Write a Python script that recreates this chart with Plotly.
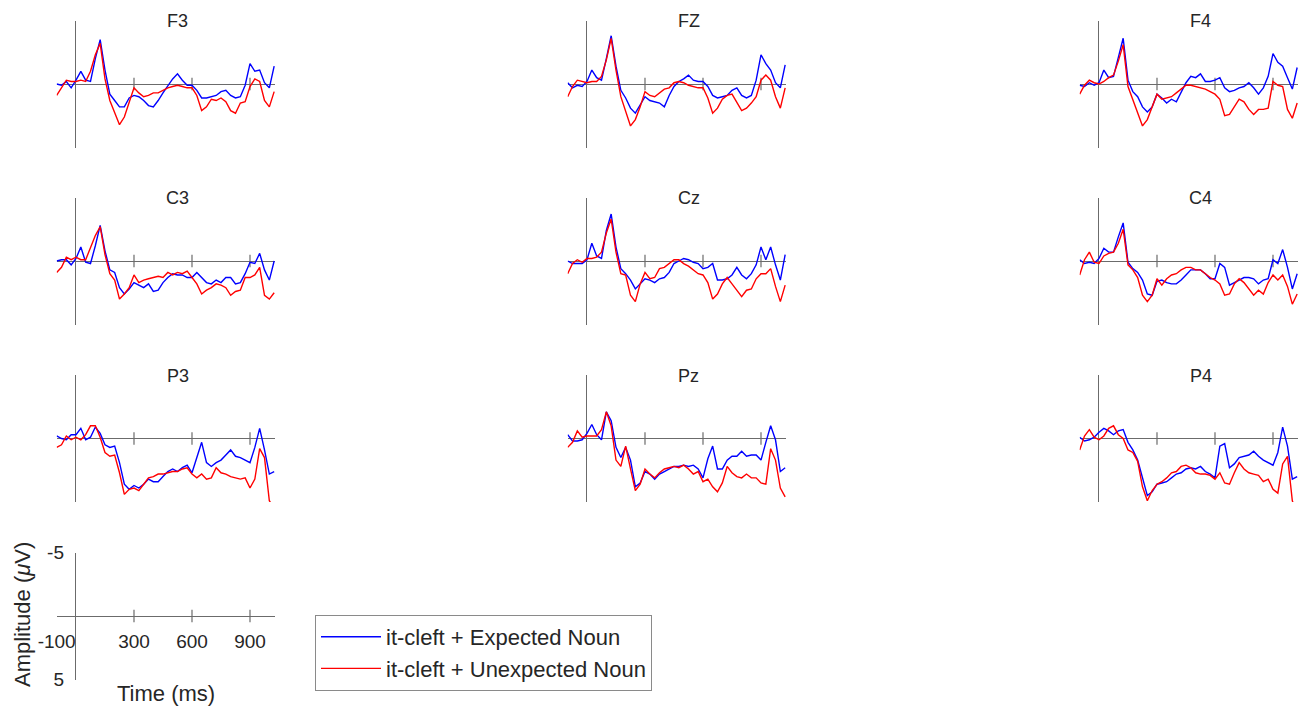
import plotly.graph_objects as go

# ---------------- data ----------------
TIMES = [-100, -75, -50, -25, 0, 25, 50, 75, 100, 125, 150, 175, 200, 225, 250,
         275, 300, 325, 350, 375, 400, 425, 450, 475, 500, 525, 550, 575, 600,
         625, 650, 675, 700, 725, 750, 775, 800, 825, 850, 875, 900, 925, 950,
         975, 1000, 1025]

ELECTRODES = ["F3", "FZ", "F4", "C3", "Cz", "C4", "P3", "Pz", "P4"]
SERIES_NAMES = ["it-cleft + Expected Noun", "it-cleft + Unexpected Noun"]

F3_EXPECTED = [0.0, 0.1, -0.2, 0.3, -0.3, -1.0, -0.3, -0.2, -2.0, -3.5, -1.1, 0.8, 1.3, 1.8, 1.8,
               1.1, 0.9, 1.0, 1.3, 1.7, 1.8, 1.3, 0.7, 0.1, -0.4, -0.8, -0.3, 0.1, 0.1,
               0.5, 1.1, 1.1, 1.0, 0.9, 0.6, 0.5, 0.9, 1.1, 1.0, 0.1, -1.6, -1.0, -1.1,
               -0.1, 0.3, -1.4]
F3_UNEXPECTED = [0.9, 0.3, -0.3, -0.2, -0.2, -0.3, -0.2, -1.0, -2.3, -3.2, -0.4, 1.3, 2.3, 3.2, 2.6,
                 1.4, 0.3, 0.7, 1.0, 0.9, 0.7, 0.7, 0.5, 0.3, 0.2, 0.1, 0.2, 0.3, 0.3,
                 0.9, 2.1, 1.8, 1.2, 1.3, 1.1, 1.4, 2.1, 2.3, 1.5, 1.4, 0.2, -0.4, -0.2,
                 1.3, 1.8, 0.6]

FZ_EXPECTED = [-0.1, 0.3, 0.1, 0.2, -0.2, -1.1, -0.5, -0.3, -2.0, -3.8, -1.4, 0.5, 1.1, 1.9, 2.3,
               1.7, 1.0, 1.3, 1.4, 1.5, 1.8, 0.9, 0.2, -0.2, -0.4, -0.7, -0.3, -0.2, -0.2,
               0.2, 0.9, 1.1, 1.0, 0.9, 0.5, 0.3, 0.9, 1.1, 0.9, -0.3, -2.3, -1.6, -1.1,
               -0.1, 0.3, -1.5]
FZ_UNEXPECTED = [1.0, 0.2, -0.3, -0.2, -0.1, -0.2, -0.2, -0.6, -1.9, -3.6, -1.1, 1.0, 2.1, 3.3, 2.8,
                 1.8, 0.6, 0.9, 1.0, 0.7, 0.4, 0.3, -0.1, -0.2, -0.1, 0.1, 0.2, 0.3, 0.3,
                 1.1, 2.3, 1.9, 1.2, 0.9, 0.8, 1.4, 2.1, 1.9, 1.5, 1.0, -0.3, -0.7, -0.3,
                 1.0, 1.9, 0.3]

F4_EXPECTED = [0.1, 0.2, -0.1, 0.1, -0.1, -1.1, -0.5, -0.6, -2.1, -3.6, -0.3, 0.6, 1.0, 1.8, 2.2,
               1.8, 0.8, 1.1, 1.5, 1.2, 1.4, 0.7, -0.1, -0.6, -0.5, -0.8, -0.2, -0.2, -0.3,
               -0.5, 0.3, 0.6, 0.5, 0.3, 0.2, -0.1, 0.3, 0.8, 0.3, -0.6, -2.4, -1.7, -1.4,
               -0.5, 0.4, -1.3]
F4_UNEXPECTED = [0.8, 0.1, -0.3, -0.1, 0.0, -0.2, -0.5, -0.7, -1.8, -3.1, 0.2, 1.2, 2.3, 3.3, 2.8,
                 1.8, 0.8, 1.2, 1.1, 1.0, 0.7, 0.4, 0.1, 0.1, 0.2, 0.3, 0.4, 0.6, 0.8,
                 1.2, 2.5, 2.4, 1.8, 1.2, 1.4, 2.0, 2.4, 2.0, 2.0, 1.9, -0.2, 0.1, 0.2,
                 2.0, 2.7, 1.5]

C3_EXPECTED = [0.0, -0.1, -0.1, 0.3, -0.2, -1.1, 0.1, 0.2, -1.2, -2.8, -0.8, 0.7, 0.9, 2.1, 2.6,
               2.2, 1.7, 1.9, 2.1, 1.8, 2.4, 2.3, 1.7, 1.3, 1.0, 1.1, 1.1, 1.3, 1.3,
               0.9, 1.3, 1.7, 1.8, 1.5, 1.7, 1.3, 1.3, 1.8, 1.7, 1.0, 0.1, 0.2, -0.6,
               0.7, 1.5, 0.0]
C3_UNEXPECTED = [0.9, 0.5, -0.3, -0.1, -0.3, -0.1, -0.1, -1.1, -2.0, -2.7, -0.5, 1.0, 1.5, 3.0, 2.6,
                 2.1, 1.1, 1.7, 1.5, 1.4, 1.3, 1.2, 1.3, 0.9, 1.1, 0.9, 1.0, 0.8, 1.3,
                 1.8, 2.6, 2.3, 2.1, 1.8, 1.9, 2.1, 2.7, 2.4, 2.3, 1.3, 1.3, 1.1, 0.5,
                 2.7, 3.0, 2.5]

CZ_EXPECTED = [0.0, 0.2, 0.2, 0.2, -0.1, -1.4, -0.4, -0.2, -2.4, -3.7, -1.1, 0.6, 1.0, 1.5, 2.2,
               1.8, 1.4, 1.5, 1.7, 1.4, 1.3, 0.9, 0.2, 0.0, -0.2, -0.1, 0.1, 0.2, 0.6,
               0.5, 0.2, 1.5, 1.5, 1.4, 1.1, 0.5, 1.1, 1.4, 1.0, 0.3, -1.1, -0.1, -1.1,
               0.3, 1.5, -0.5]
CZ_UNEXPECTED = [1.0, 0.2, -0.1, 0.1, -0.2, -0.2, -0.3, -0.7, -2.2, -3.3, -0.7, 1.0, 1.1, 2.7, 3.2,
                 1.8, 0.9, 1.4, 1.3, 0.6, 0.5, 0.2, -0.1, -0.1, 0.2, 0.4, 0.7, 1.0, 1.1,
                 1.7, 3.0, 2.6, 1.8, 1.3, 1.8, 2.3, 2.8, 2.3, 2.2, 1.4, 1.0, 1.0, 0.6,
                 2.0, 3.2, 1.9]

C4_EXPECTED = [-0.1, 0.2, 0.1, 0.2, -0.2, -1.0, -0.7, -0.7, -1.9, -3.0, 0.1, 0.6, 0.9, 1.5, 2.6,
               2.7, 1.6, 1.5, 1.7, 1.8, 1.8, 1.5, 1.1, 0.7, 0.7, 0.7, 1.0, 1.4, 1.4,
               0.2, 0.5, 1.9, 1.7, 1.5, 1.3, 1.3, 1.4, 1.8, 1.5, 1.4, -0.1, 0.2, -0.9,
               0.5, 2.2, 1.0]
C4_UNEXPECTED = [1.1, -0.1, -0.7, 0.1, 0.2, -0.4, -0.6, -0.7, -1.4, -2.5, 0.3, 0.7, 1.3, 2.7, 3.2,
                 2.7, 1.4, 1.9, 1.4, 1.1, 1.0, 0.7, 0.5, 0.5, 0.7, 0.7, 1.0, 1.3, 1.5,
                 1.8, 2.7, 2.6, 1.8, 1.4, 1.7, 2.2, 2.7, 2.3, 2.6, 1.7, 1.1, 1.5, 1.1,
                 2.0, 3.4, 2.6]

P3_EXPECTED = [-0.2, 0.0, 0.1, -0.3, -0.3, -0.8, 0.1, -0.1, -0.9, -0.4, 0.5, 0.7, 0.6, 1.9, 3.6,
               4.0, 3.7, 3.9, 3.6, 3.2, 3.4, 3.4, 3.0, 2.6, 2.4, 2.6, 2.3, 2.1, 2.7,
               1.4, 0.3, 1.9, 2.2, 1.9, 1.7, 1.3, 0.9, 1.4, 1.5, 1.7, 1.9, 0.7, -0.8,
               0.9, 2.8, 2.6]
P3_UNEXPECTED = [0.7, 0.5, -0.2, 0.1, -0.1, 0.1, -0.3, -1.0, -1.0, -0.1, 1.1, 1.4, 1.3, 2.7, 4.4,
                 4.0, 3.9, 4.1, 3.6, 3.1, 3.0, 2.8, 2.8, 2.7, 2.6, 2.6, 2.4, 2.3, 2.8,
                 3.1, 2.8, 3.2, 3.1, 2.3, 2.7, 2.8, 3.0, 3.1, 3.2, 3.1, 3.9, 3.2, 0.8,
                 1.5, 4.9, 5.5]

PZ_EXPECTED = [-0.3, 0.2, 0.2, 0.1, -0.4, -1.1, -0.3, 0.1, -2.1, -1.4, 0.7, 1.5, 0.7, 1.7, 3.8,
               3.5, 2.6, 2.8, 3.2, 2.8, 2.6, 2.4, 2.2, 2.2, 2.1, 2.2, 2.1, 2.4, 3.1,
               1.6, 0.6, 2.4, 2.4, 1.7, 1.4, 1.4, 1.0, 1.4, 1.3, 1.3, 1.7, 0.3, -1.0,
               0.1, 2.6, 2.3]
PZ_UNEXPECTED = [0.7, 0.3, -0.6, -0.1, -0.2, -0.2, -0.2, -0.7, -2.1, -1.0, 1.7, 2.2, 0.6, 2.4, 4.1,
                 3.6, 2.4, 2.8, 3.1, 2.7, 2.4, 2.3, 2.2, 2.3, 2.1, 2.4, 2.8, 2.6, 3.4,
                 3.2, 3.8, 4.2, 3.5, 2.2, 2.7, 3.0, 3.1, 2.8, 3.1, 3.1, 3.5, 3.6, 0.8,
                 1.7, 3.9, 4.6]

P4_EXPECTED = [-0.1, 0.2, 0.1, -0.1, -0.5, -0.8, -0.6, -0.3, -0.6, -0.7, 0.3, 0.9, 1.7, 3.2, 4.5,
               4.2, 3.6, 3.5, 3.4, 3.1, 2.8, 2.7, 2.4, 2.3, 2.4, 2.2, 2.6, 2.8, 3.1,
               0.6, 0.4, 2.3, 2.0, 1.5, 1.4, 1.3, 1.0, 1.4, 1.7, 1.9, 2.1, 1.1, -0.9,
               0.6, 3.2, 3.0]
P4_UNEXPECTED = [0.9, -0.2, -0.7, -0.1, 0.1, -0.2, -0.8, -1.0, -0.3, 0.0, 0.9, 1.1, 1.8, 3.8, 4.9,
                 4.1, 3.6, 3.4, 3.1, 2.7, 2.6, 2.2, 2.1, 2.3, 2.7, 2.8, 2.8, 2.9, 3.2,
                 2.7, 3.5, 3.6, 2.7, 1.9, 2.4, 2.7, 2.8, 2.9, 3.4, 3.2, 4.0, 4.3, 2.0,
                 1.4, 4.9, 6.0]

PANEL_DATA = {
    "F3": (F3_EXPECTED, F3_UNEXPECTED), "FZ": (FZ_EXPECTED, FZ_UNEXPECTED),
    "F4": (F4_EXPECTED, F4_UNEXPECTED), "C3": (C3_EXPECTED, C3_UNEXPECTED),
    "Cz": (CZ_EXPECTED, CZ_UNEXPECTED), "C4": (C4_EXPECTED, C4_UNEXPECTED),
    "P3": (P3_EXPECTED, P3_UNEXPECTED), "Pz": (PZ_EXPECTED, PZ_UNEXPECTED),
    "P4": (P4_EXPECTED, P4_UNEXPECTED),
}

TIME_TICKS = [300, 600, 900]
SCALE_TIME_LABELS = [-100, 300, 600, 900]
SCALE_AMP_LABELS = [-5, 5]
X_RANGE = [-100, 1030]
Y_LIMIT = 5

# ---------------- layout / style ----------------
W, H = 1306, 707
COL_ZERO_PX = [76, 587, 1099]
ROW_ZERO_PX = [84, 261, 438.5]
SCALE_ZERO_PX = (76, 616)
PX_PER_MS = 58 / 300
HALF_H_PX = 63.5
COLORS = ["#0000ff", "#ff0000"]
AXIS_COLOR = "#6b6b6b"
TEXT_COLOR = "#262626"
FONT = "Liberation Sans, Arial, Helvetica, sans-serif"
TICK_HALF_UV = 0.5


def x_domain(zx):
    return [(zx + X_RANGE[0] * PX_PER_MS) / W, (zx + X_RANGE[1] * PX_PER_MS) / W]


def y_domain(zy):
    return [1 - (zy + HALF_H_PX) / H, 1 - (zy - HALF_H_PX) / H]


fig = go.Figure()
layout = dict(
    width=W, height=H, margin=dict(l=0, r=0, t=0, b=0, pad=0, autoexpand=False),
    paper_bgcolor="white", plot_bgcolor="rgba(0,0,0,0)",
    font=dict(family=FONT, color=TEXT_COLOR),
    showlegend=True,
    legend=dict(x=315 / W, y=1 - 615 / H, xanchor="left", yanchor="top",
                bordercolor="#8a8a8a", borderwidth=1, bgcolor="white",
                font=dict(size=22, family=FONT, color=TEXT_COLOR),
                itemwidth=60, tracegroupgap=0),
)
shapes = []
annotations = []


def axis_pair(idx, zx, zy):
    suffix = "" if idx == 1 else str(idx)
    layout["xaxis" + suffix] = dict(
        domain=x_domain(zx), range=X_RANGE, anchor="y" + suffix, automargin=False,
        showgrid=False, showticklabels=False, ticks="", showline=False,
        zeroline=True, zerolinecolor=AXIS_COLOR, zerolinewidth=1.2, fixedrange=True)
    layout["yaxis" + suffix] = dict(
        domain=y_domain(zy), range=[Y_LIMIT, -Y_LIMIT], anchor="x" + suffix, automargin=False,
        showgrid=False, showticklabels=False, ticks="", showline=False,
        zeroline=True, zerolinecolor=AXIS_COLOR, zerolinewidth=1.2, fixedrange=True)
    for t in TIME_TICKS:
        shapes.append(dict(type="line", xref="x" + suffix, yref="y" + suffix,
                           x0=t, x1=t, y0=-TICK_HALF_UV, y1=TICK_HALF_UV, layer="below",
                           line=dict(color=AXIS_COLOR, width=1.2)))
    return "x" + suffix, "y" + suffix


for i, name in enumerate(ELECTRODES):
    r, c = divmod(i, 3)
    zx, zy = COL_ZERO_PX[c], ROW_ZERO_PX[r]
    xa, ya = axis_pair(i + 1, zx, zy)
    for k, series in enumerate(PANEL_DATA[name]):
        fig.add_trace(go.Scatter(
            x=TIMES, y=series, mode="lines", xaxis=xa, yaxis=ya,
            line=dict(color=COLORS[k], width=1.4),
            name=SERIES_NAMES[k], legendgroup=SERIES_NAMES[k],
            showlegend=(i == 0), hoverinfo="skip"))
    dom = x_domain(zx)
    annotations.append(dict(text=name, xref="paper", yref="paper",
                            x=(dom[0] + dom[1]) / 2 + 12 / W, y=1 - (zy - 63) / H,
                            xanchor="center", yanchor="middle", showarrow=False,
                            font=dict(size=18, family=FONT, color=TEXT_COLOR)))

# scale panel
sx, sy = SCALE_ZERO_PX
axis_pair(10, sx, sy)
layout["xaxis10"].update(anchor="free", position=1 - sy / H, showticklabels=True,
                         tickmode="array", tickvals=SCALE_TIME_LABELS,
                         ticktext=[str(v) for v in SCALE_TIME_LABELS],
                         tickfont=dict(size=19, family=FONT, color=TEXT_COLOR),
                         ticklabelstandoff=12)
layout["yaxis10"].update(anchor="free", position=sx / W, showticklabels=True,
                         tickmode="array", tickvals=SCALE_AMP_LABELS,
                         ticktext=[str(v) for v in SCALE_AMP_LABELS],
                         tickfont=dict(size=19, family=FONT, color=TEXT_COLOR),
                         ticklabelstandoff=12)
annotations.append(dict(text="Time (ms)", xref="paper", yref="paper",
                        x=166 / W, y=1 - 693 / H, xanchor="center", yanchor="middle",
                        showarrow=False, font=dict(size=22, family=FONT, color=TEXT_COLOR)))
annotations.append(dict(text="Amplitude (<i>μ</i>V)", xref="paper", yref="paper",
                        x=22 / W, y=1 - 615 / H, xanchor="center", yanchor="middle",
                        textangle=-90, showarrow=False,
                        font=dict(size=22, family=FONT, color=TEXT_COLOR)))

layout["shapes"] = shapes
layout["annotations"] = annotations
fig.update_layout(**layout)

fig.write_html("out.html", config={"displayModeBar": False})
